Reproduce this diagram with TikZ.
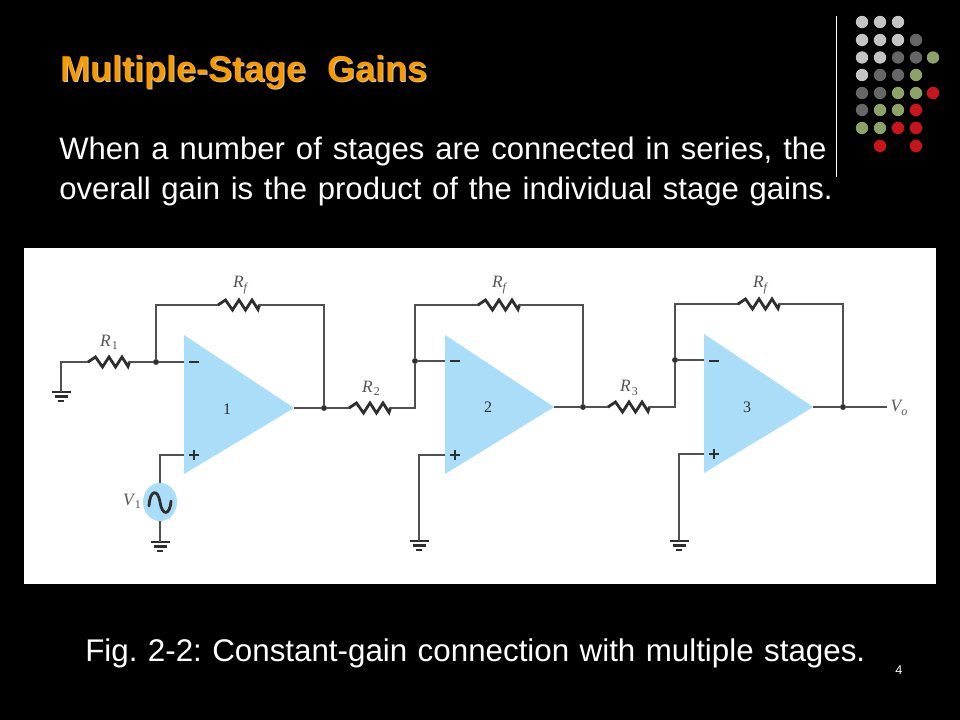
\documentclass[tikz,border=0pt]{standalone}
\usepackage{fontspec}
\usetikzlibrary{shapes.geometric}
\setmainfont{Liberation Sans}
\newfontfamily\circfont{Liberation Serif}
\definecolor{wirecol}{HTML}{505050}
\definecolor{lablcol}{HTML}{555555}
\definecolor{rescol}{HTML}{2E2E2E}
\definecolor{ampblue}{HTML}{A9DDF8}
\definecolor{titleor}{HTML}{F59B00}
\definecolor{titlesh}{HTML}{D8C6A6}
\definecolor{dotA}{HTML}{C4C4C4}
\definecolor{dotB}{HTML}{666666}
\definecolor{dotC}{HTML}{8CA266}
\definecolor{dotD}{HTML}{C8141A}
\newcommand{\fitw}[2]{\makebox[#1pt][s]{\frenchspacing #2}}
\newcommand{\subup}[1]{\kern1pt\raisebox{-2.5pt}{\upshape\fontsize{9}{9}\selectfont #1}}
\newcommand{\subit}[1]{\raisebox{-2.5pt}{\fontsize{9}{9}\selectfont #1}}
\tikzset{
  wire/.style={draw=wirecol,line width=0.85pt},
  amp/.style={fill=ampblue,draw=none},
  joint/.style={circle,fill=rescol,inner sep=0pt,minimum size=4.4pt},
  body/.style={text=white,anchor=west,inner sep=0pt,font=\fontsize{23.3}{26}\selectfont},
  clabel/.style={text=lablcol,inner sep=0pt,font=\circfont\itshape\fontsize{13}{14}\selectfont},
  cnum/.style={text=rescol,inner sep=0pt,font=\circfont\fontsize{12}{12}\selectfont},
  pics/resistor/.style={code={
    \draw[rescol,line width=2.1pt,line join=miter,line cap=round]
      (0,0)--(7.5,-5)--(14.5,5)--(21,-5)--(27.5,5)--(34,-5)--(40,4.5)--(41.5,0);}},
  pics/earth/.style={code={
    \draw[rescol,line width=2.1pt] (-9.5,0)--(9.5,0);
    \draw[rescol,line width=2pt] (-6.5,4.5)--(6.5,4.5);
    \draw[rescol,line width=2pt] (-3,9)--(3,9);}},
}
\newcommand{\dotrow}[3]{\foreach \xx in {#2}{\fill[#3] (\xx,#1) circle (6.2);}}
\begin{document}
\begin{tikzpicture}[x=0.75pt,y=-0.75pt]
\useasboundingbox (0,0) rectangle (960,720);
\fill[black] (0,0) rectangle (960,720);
% title
\node[text=titlesh,anchor=west,inner sep=0pt,font=\bfseries\fontsize{27}{30}\selectfont] (titleshadow) at (61,73) {\fitw{275.5}{Multiple-Stage Gains}};
\node[text=titleor,anchor=west,inner sep=0pt,font=\bfseries\fontsize{27}{30}\selectfont] (title) at (60,72) {\fitw{275.5}{Multiple-Stage Gains}};
\node[body] (line1) at (59,151) {\fitw{575.5}{When a number of stages are connected in series, the}};
\node[body] (line2) at (59,191) {\fitw{580}{overall gain is the product of the individual stage gains.}};
% decoration
\draw[white,line width=0.9pt] (836.5,16)--(836.5,177);
\dotrow{22}{862,880,898}{dotA}
\dotrow{40}{862,880,898}{dotA}\dotrow{40}{916}{dotB}
\dotrow{57.5}{862,880}{dotA}\dotrow{57.5}{898,916}{dotB}\dotrow{57.5}{933}{dotC}
\dotrow{75}{862}{dotA}\dotrow{75}{880,898}{dotB}\dotrow{75}{916}{dotC}
\dotrow{93}{862,880}{dotB}\dotrow{93}{898,916}{dotC}\dotrow{93}{933}{dotD}
\dotrow{110}{862}{dotB}\dotrow{110}{880,898}{dotC}\dotrow{110}{916}{dotD}
\dotrow{128}{862,880}{dotC}\dotrow{128}{898,916}{dotD}
\dotrow{146}{880,916}{dotD}
% panel
\fill[white] (24,248) rectangle (936,584);
% amplifiers
\fill[amp] (184,335)--(294,408)--(184,474)--cycle;
\fill[amp] (445,335)--(554,407)--(445,474)--cycle;
\fill[amp] (704,334)--(813,407)--(704,473)--cycle;
% coordinates
\coordinate (in1m) at (184,362); \coordinate (in1p) at (184,455); \coordinate (out1) at (294,408);
\coordinate (in2m) at (445,361); \coordinate (in2p) at (445,455); \coordinate (out2) at (554,407);
\coordinate (in3m) at (704,360); \coordinate (in3p) at (704,454); \coordinate (out3) at (813,407);
\coordinate (vo) at (887,407);
\node[joint] (j1) at (156,362) {};
\node[joint] (k1) at (324,408) {};
\node[joint] (j2) at (415,361) {};
\node[joint] (k2) at (583,407) {};
\node[joint] (j3) at (675,360) {};
\node[joint] (k3) at (843,407) {};
% resistors
\pic at (88,362) {resistor};   \coordinate (r1a) at (88,362);  \coordinate (r1b) at (129,362);
\pic at (218,305) {resistor};  \coordinate (fa1) at (218,305); \coordinate (fb1) at (259,305);
\pic at (478,305) {resistor};  \coordinate (fa2) at (478,305); \coordinate (fb2) at (519,305);
\pic at (738,304) {resistor};  \coordinate (fa3) at (738,304); \coordinate (fb3) at (779,304);
\pic at (349,408) {resistor};  \coordinate (r2a) at (349,408); \coordinate (r2b) at (390,408);
\pic at (608,407) {resistor};  \coordinate (r3a) at (608,407); \coordinate (r3b) at (649,407);
% grounds
\coordinate (g1) at (61,392);  \pic at (g1) {earth};
\coordinate (g2) at (160,542); \pic at (g2) {earth};
\coordinate (g3) at (419,541); \pic at (g3) {earth};
\coordinate (g4) at (679,541); \pic at (g4) {earth};
% source
\node[ellipse,fill=ampblue,minimum width=25.5pt,minimum height=28.5pt,inner sep=0pt] (src) at (160,502) {};
\draw[rescol,line width=2.1pt,line cap=round] (149,506) .. controls (150,489) and (158,489) .. (160,502) .. controls (162,516) and (170,516) .. (171,501);
% wires
\draw[wire] (g1) |- (r1a);
\draw[wire] (r1b) -- (j1) -- (in1m);
\draw[wire] (j1) |- (fa1);
\draw[wire] (fb1) -| (k1);
\draw[wire] (out1) -- (k1) -- (r2a);
\draw[wire] (r2b) -| (j2);
\draw[wire] (j2) -- (in2m);
\draw[wire] (j2) |- (fa2);
\draw[wire] (fb2) -| (k2);
\draw[wire] (out2) -- (k2) -- (r3a);
\draw[wire] (r3b) -| (j3);
\draw[wire] (j3) -- (in3m);
\draw[wire] (j3) |- (fa3);
\draw[wire] (fb3) -| (k3);
\draw[wire] (out3) -- (k3) -- (vo);
\draw[wire] (in1p) -| (src.north);
\draw[wire] (src.south) -- (g2);
\draw[wire] (in2p) -| (g3);
\draw[wire] (in3p) -| (g4);
% labels
\node[clabel] (lr1) at (109,342) {R\subup{1}};
\node[clabel] (lf1) at (240,285) {R\subit{f}};
\node[clabel] (lf2) at (499,285) {R\subit{f}};
\node[clabel] (lf3) at (760,285) {R\subit{f}};
\node[clabel] (lr2) at (371,388) {R\subup{2}};
\node[clabel] (lr3) at (629,388) {R\subup{3}};
\node[clabel] (lv1) at (132,501) {V\subup{1}};
\node[clabel] (lvo) at (899,408) {V\subit{o}};
\node[cnum] (n1) at (227,409) {1};
\node[cnum] (n2) at (488,407) {2};
\node[cnum] (n3) at (747,407) {3};
\foreach \xx/\ym/\yp in {194/362/455,455/361/455,714/361/454}{
  \draw[rescol,line width=2.2pt] (\xx-5,\ym)--(\xx+5,\ym);
  \draw[rescol,line width=2pt] (\xx-5,\yp)--(\xx+5,\yp) (\xx,\yp-5)--(\xx,\yp+5);
}
% caption
\node[text=white,anchor=west,inner sep=0pt,font=\fontsize{23.5}{26}\selectfont] (caption) at (85,653) {\fitw{585}{Fig. 2-2: Constant-gain connection with multiple stages.}};
\node[text=white,inner sep=0pt,font=\fontsize{9.5}{11}\selectfont] (page) at (899,670) {4};
\end{tikzpicture}
\end{document}
